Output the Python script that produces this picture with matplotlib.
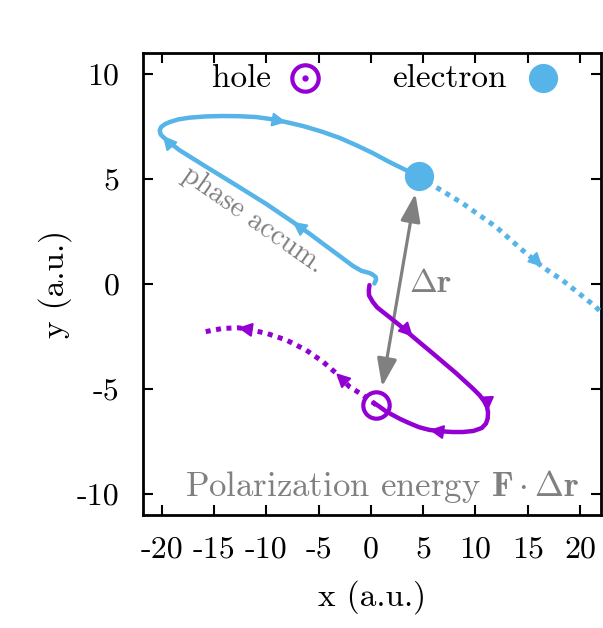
import matplotlib
matplotlib.use('Agg')
import matplotlib.pyplot as plt

plt.rcParams['font.family'] = 'serif'
plt.rcParams['font.serif'] = ['cmr10']
plt.rcParams['mathtext.fontset'] = 'cm'
plt.rcParams['axes.formatter.use_mathtext'] = True

# trajectories (a.u.), in time order
elec_x = [0.33, 0.50, 0.45, 0.14, -0.14, -0.9, -1.74, -3.0, -4.28, -5.9, -7.48, -10.0, -12.9, -15.75,
          -18.3, -19.6, -20.1, -20.2, -20.06, -19.7, -19.26, -18.4, -17.35, -15.8, -14.17, -12.6, -10.98,
          -9.5, -8.1, -6.4, -4.6, -3.0, -1.4, 0.2, 1.77, 3.37, 4.57]
elec_y = [0.02, 0.2, 0.33, 0.45, 0.52, 0.62, 0.86, 1.33, 1.8, 2.4, 2.95, 3.8, 4.7, 5.57,
          6.36, 6.87, 7.1, 7.3, 7.47, 7.6, 7.7, 7.83, 7.91, 7.97, 7.99, 7.98, 7.94,
          7.84, 7.7, 7.5, 7.23, 6.95, 6.6, 6.22, 5.8, 5.41, 5.12]
elec_fut_x = [4.57, 5.91, 8.78, 11.97, 14.5, 16.4, 18.3, 21.5, 22.0]
elec_fut_y = [5.12, 4.7, 3.83, 2.71, 1.6, 0.81, 0.18, -1.09, -1.35]

hole_x = [-0.14, -0.2, -0.18, 0.17, 0.6, 1.13, 1.9, 2.72, 4.0, 5.9, 8.15, 9.73, 10.4, 10.85, 11.1, 11.2,
          11.17, 11.0, 10.6, 9.8, 8.78, 7.8, 6.86, 5.6, 4.6, 3.68, 2.8, 2.08, 1.4, 0.81, 0.24]
hole_y = [-0.06, -0.3, -0.55, -0.85, -1.12, -1.33, -1.63, -1.96, -2.51, -3.3, -4.25, -4.97, -5.3, -5.6,
          -5.85, -6.1, -6.4, -6.65, -6.86, -7.0, -7.05, -7.05, -7.02, -6.95, -6.82, -6.63, -6.43, -6.24,
          -6.05, -5.84, -5.65]
hole_fut_x = [0.5, -0.78, -2.06, -3.33, -4.6, -6.2, -8.1, -10.0, -11.9, -12.7, -14.2, -15.9]
hole_fut_y = [-5.76, -5.29, -4.89, -4.25, -3.7, -3.15, -2.67, -2.35, -2.15, -2.09, -2.12, -2.28]

# arrow heads on the paths: (x_tail, y_tail, x_tip, y_tip)
elec_arrows = [(-6.4, 2.55, -7.48, 2.95), (-19.3, 6.7, -19.9, 7.05), (-9.2, 7.8, -8.1, 7.7)]
elec_fut_arrows = [(15.6, 1.2, 16.4, 0.81)]
hole_arrows = [(3.3, -2.15, 4.0, -2.51), (11.12, -5.6, 11.17, -6.05), (6.5, -7.02, 5.6, -6.95)]
hole_fut_arrows = [(-2.6, -4.6, -3.33, -4.25), (-11.9, -2.15, -12.7, -2.09)]

elec_pos = (4.57, 5.12)
hole_pos = (0.5, -5.76)
dr_tail = (1.07, -4.89)
dr_tip = (4.25, 4.3)

xticks = [-20, -15, -10, -5, 0, 5, 10, 15, 20]
yticks = [-10, -5, 0, 5, 10]

blue = '#56b4e9'
violet = '#9400d3'
gray = '#808080'

fig = plt.figure(figsize=(6.03, 6.28), dpi=100, facecolor='white')
ax = fig.add_axes([0.2371, 0.1799, 0.7595, 0.7361])

ax.plot(elec_x, elec_y, color=blue, lw=3.2, solid_capstyle='round', solid_joinstyle='round', zorder=3)
ax.plot(elec_fut_x, elec_fut_y, color=blue, lw=3.6, ls=(0, (1, 1.1)), zorder=3)
ax.plot(hole_x, hole_y, color=violet, lw=3.2, solid_capstyle='round', solid_joinstyle='round', zorder=3)
ax.plot(hole_fut_x, hole_fut_y, color=violet, lw=3.6, ls=(0, (1, 1.1)), zorder=3)

for arrs, c in [(elec_arrows, blue), (elec_fut_arrows, blue), (hole_arrows, violet), (hole_fut_arrows, violet)]:
    for x0, y0, x1, y1 in arrs:
        ax.annotate('', xy=(x1, y1), xytext=(x0, y0),
                    arrowprops=dict(arrowstyle='-|>,head_length=0.55,head_width=0.28', color=c, lw=1.5,
                                    shrinkA=0, shrinkB=0, mutation_scale=15), zorder=4)

ax.plot(*elec_pos, 'o', ms=20, color=blue, zorder=5)
ax.plot(*hole_pos, 'o', ms=19, mfc='none', mec=violet, mew=3, zorder=5)

ax.annotate('', xy=dr_tip, xytext=dr_tail,
            arrowprops=dict(arrowstyle='<|-|>,head_length=0.85,head_width=0.3', color=gray, lw=2.3,
                            shrinkA=0, shrinkB=0, mutation_scale=20), zorder=2)
ax.text(3.6, 0.0, r'$\Delta\mathbf{r}$', color=gray, fontsize=24, va='center', ha='left')
ax.text(-11.3, 3.03, 'phase accum.', color=gray, fontsize=20.5, rotation=-35, ha='center', va='center',
        rotation_mode='anchor')
ax.text(19.9, -9.66, r'Polarization energy $\mathbf{F}\cdot\Delta\mathbf{r}$', color=gray, fontsize=25,
        ha='right', va='center')

# key, drawn at the top of the frame
ax.text(0.279, 0.945, 'hole', fontsize=24, ha='right', va='center', transform=ax.transAxes)
ax.plot(0.353, 0.945, 'o', ms=19, mfc='none', mec=violet, mew=3, transform=ax.transAxes, zorder=5)
ax.plot(0.353, 0.945, 'o', ms=3.5, color=violet, transform=ax.transAxes, zorder=5)
ax.text(0.794, 0.945, 'electron', fontsize=24, ha='right', va='center', transform=ax.transAxes)
ax.plot(0.873, 0.945, 'o', ms=20, color=blue, transform=ax.transAxes, zorder=5)

ax.set_xlim(-21.8, 22)
ax.set_ylim(-11, 11)
ax.set_xticks(xticks)
ax.set_xticklabels([str(t) for t in xticks])
ax.set_yticks(yticks)
ax.set_yticklabels([str(t) for t in yticks])
ax.tick_params(direction='in', length=7, width=1.5, top=True, right=True, labelsize=23)
ax.tick_params(axis='x', pad=15)
ax.tick_params(axis='y', pad=17)
for s in ax.spines.values():
    s.set_linewidth(2)
ax.set_xlabel('x (a.u.)', fontsize=24, labelpad=12)
ax.set_ylabel('y (a.u.)', fontsize=24, labelpad=3)

fig.savefig('out.png', dpi=100, facecolor=fig.get_facecolor())
